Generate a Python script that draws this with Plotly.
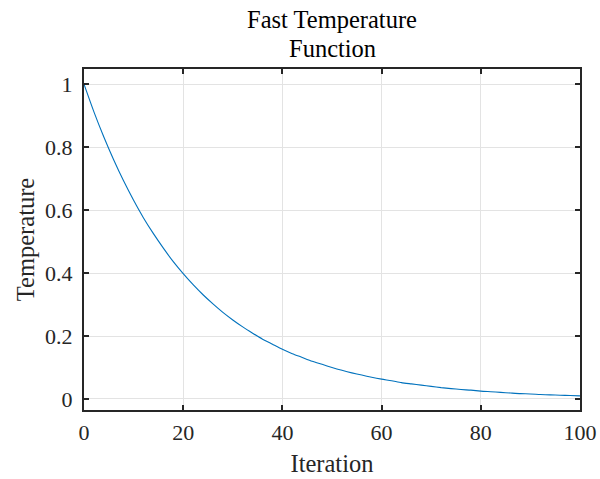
import plotly.graph_objects as go

# iteration values (every 2nd step) and temperature
iteration = list(range(0, 101, 2))
temperature = [
    1.000, 0.912, 0.832, 0.759, 0.692, 0.631, 0.575, 0.525, 0.479, 0.436,
    0.398, 0.363, 0.331, 0.302, 0.275, 0.251, 0.229, 0.209, 0.190, 0.174,
    0.158, 0.144, 0.132, 0.120, 0.110, 0.100, 0.091, 0.083, 0.076, 0.069,
    0.063, 0.058, 0.052, 0.048, 0.044, 0.040, 0.036, 0.033, 0.030, 0.028,
    0.025, 0.023, 0.021, 0.019, 0.017, 0.016, 0.014, 0.013, 0.012, 0.011,
    0.010,
]
x_ticks = [0, 20, 40, 60, 80, 100]
y_ticks = [0, 0.2, 0.4, 0.6, 0.8, 1]
y_tick_labels = ['0', '0.2', '0.4', '0.6', '0.8', '1']
title_lines = ['Fast Temperature', 'Function']

font_family = 'Liberation Serif'
axis_color = '#262626'
tick_size = 22
label_size = 24.5

fig = go.Figure(
    go.Scatter(
        x=iteration,
        y=temperature,
        mode='lines',
        line=dict(color='#0072BD', width=1.1, shape='spline', smoothing=0.6),
        showlegend=False,
    )
)

axis_style = dict(
    showline=True,
    linecolor=axis_color,
    linewidth=2,
    mirror='ticks',
    ticks='inside',
    ticklen=5,
    tickwidth=1.5,
    tickcolor=axis_color,
    showgrid=True,
    gridcolor='#e3e3e3',
    gridwidth=1,
    zeroline=False,
    automargin=False,
    tickfont=dict(family=font_family, size=tick_size, color=axis_color),
)

fig.update_xaxes(
    **axis_style,
    range=[0, 100],
    tickvals=x_ticks,
    ticklabelstandoff=2,
    title=dict(text='Iteration', font=dict(family=font_family, size=label_size, color=axis_color), standoff=10),
)
fig.update_yaxes(
    **axis_style,
    range=[-0.035, 1.048],
    tickvals=y_ticks,
    ticktext=y_tick_labels,
    ticklabelstandoff=5,
    title=dict(text='Temperature', font=dict(family=font_family, size=label_size, color=axis_color), standoff=4),
)

# two title lines placed separately to get the wider line spacing
title_annotations = [
    dict(
        text=line,
        xref='paper', yref='paper',
        x=0.5, y=1,
        xanchor='center', yanchor='bottom',
        yshift=shift,
        showarrow=False,
        font=dict(family=font_family, size=label_size, color='#000000'),
    )
    for line, shift in zip(title_lines, [34, 5])
]

fig.update_layout(
    width=600,
    height=479,
    paper_bgcolor='white',
    plot_bgcolor='white',
    margin=dict(l=84, r=20, t=69, b=69),
    annotations=title_annotations,
)

# drop the default page margin so the figure sits at the window's corner
fig.write_html(
    "out.html",
    config={'displayModeBar': False},
    post_script="document.body.style.margin='0';",
)
